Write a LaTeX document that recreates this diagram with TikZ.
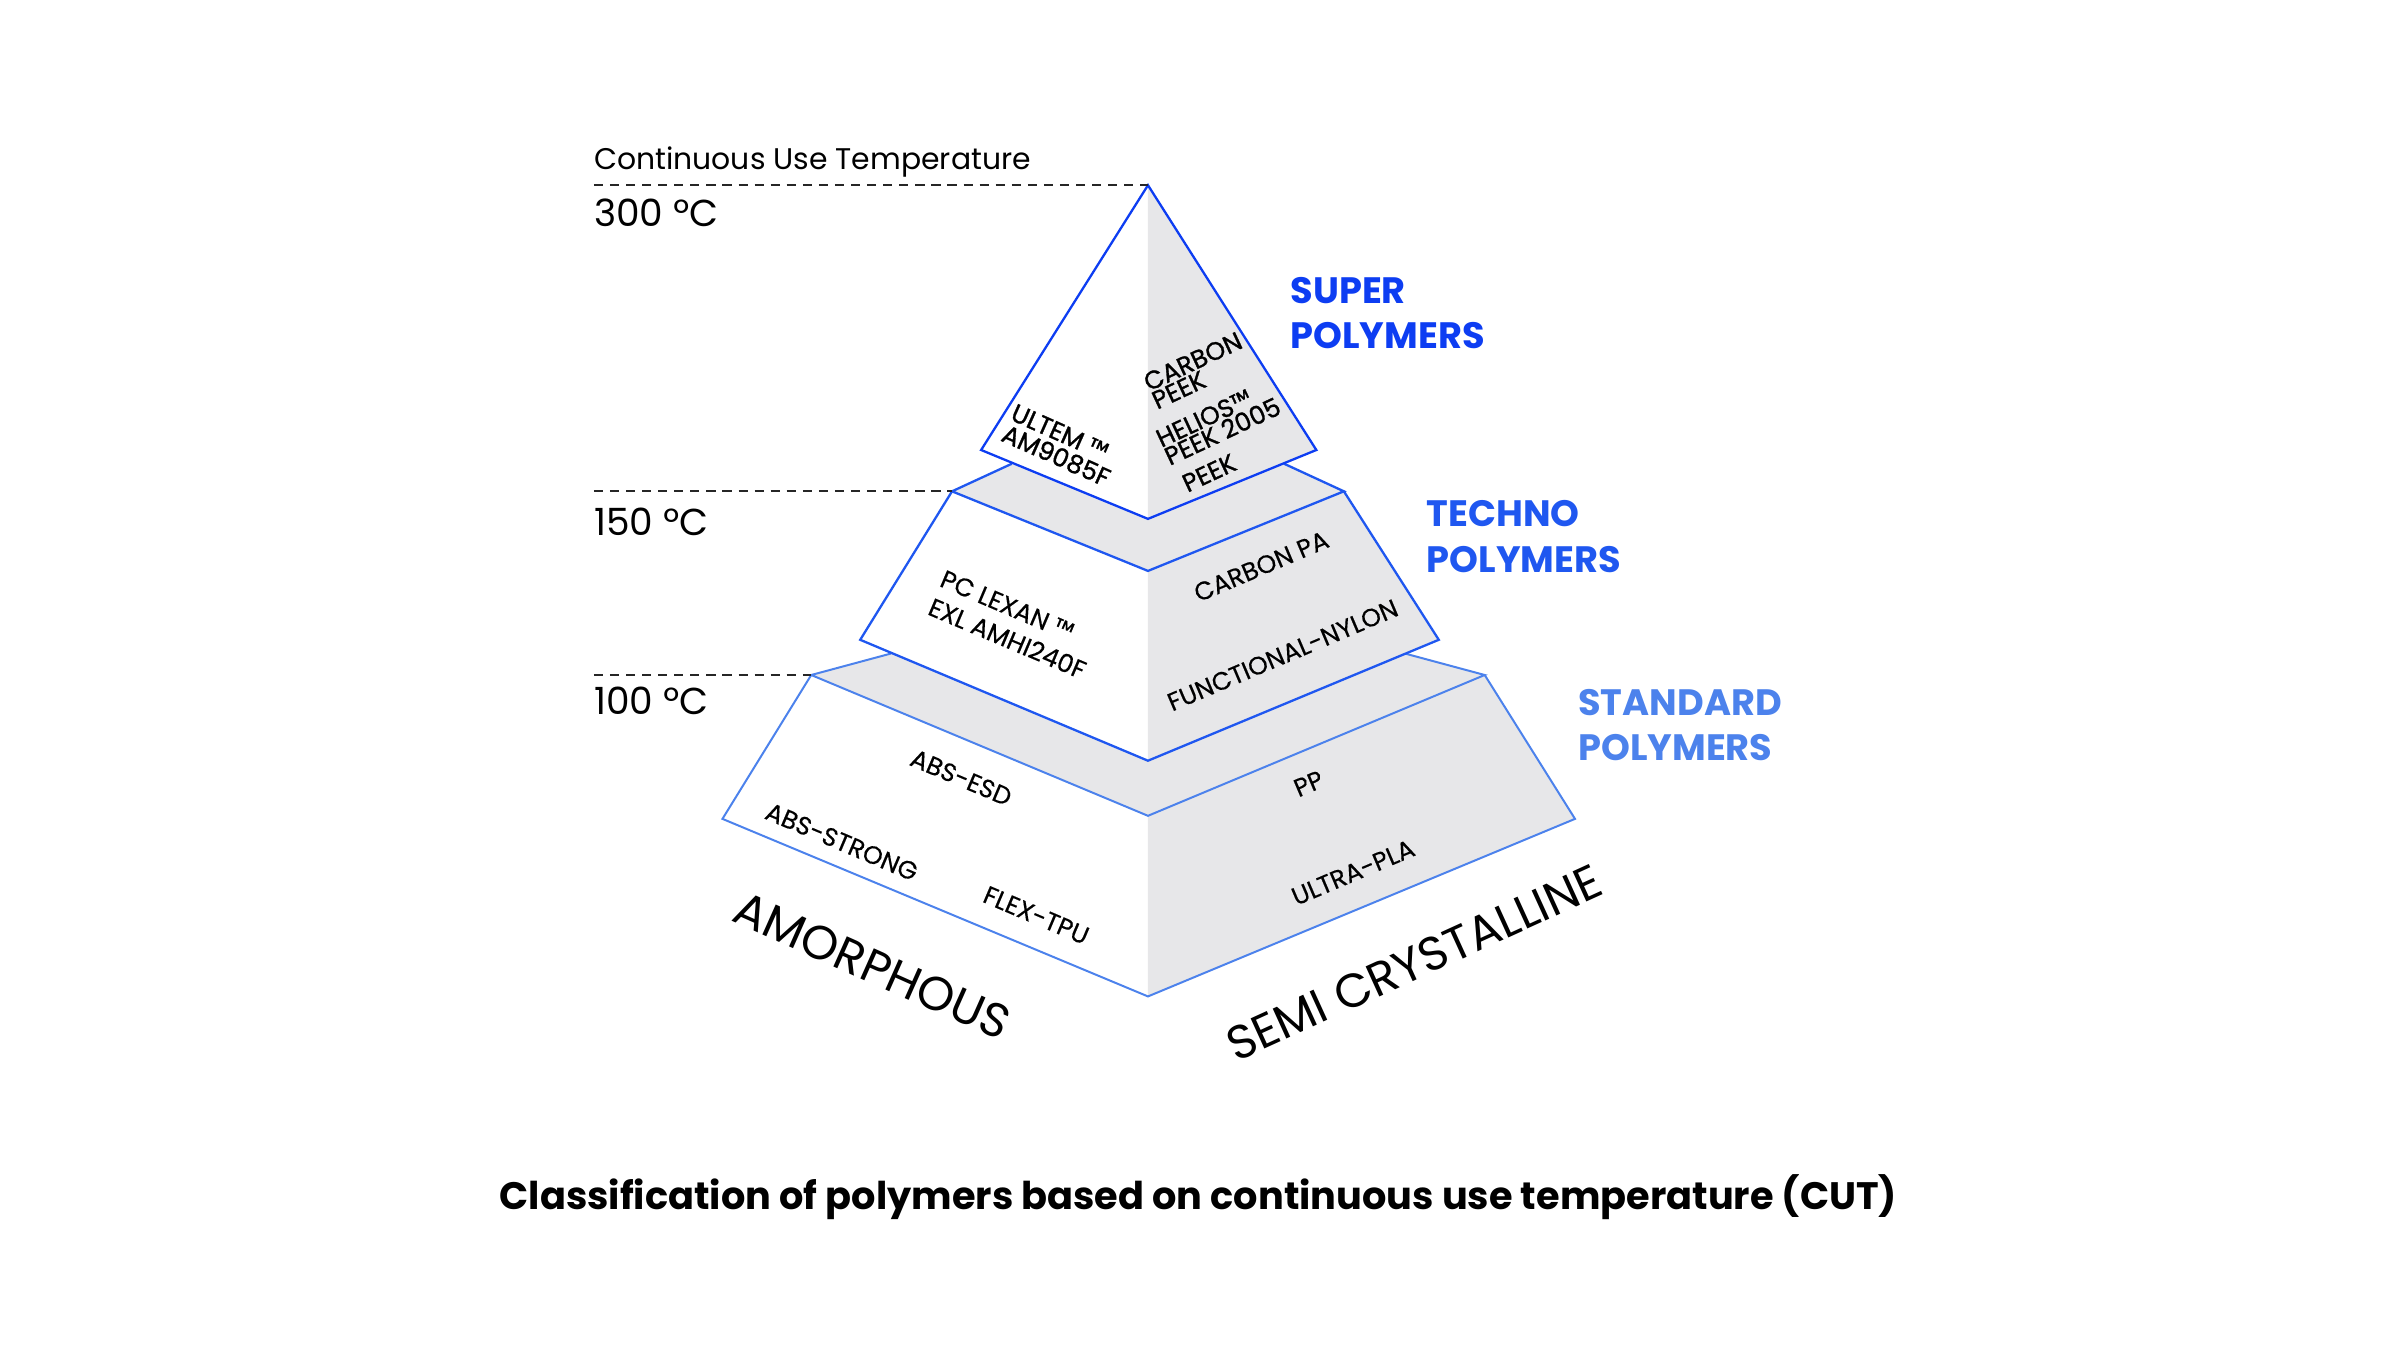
\documentclass[tikz,border=0pt]{standalone}
\usepackage{fontspec}
\setmainfont{Poppins}
\newfontfamily\medfont{Poppins}[FakeBold=0.35]
\newfontfamily\semifont{Poppins}[FakeBold=1.1]
\definecolor{cA}{HTML}{0D3DF2}
\definecolor{cB}{HTML}{1F57F0}
\definecolor{cC}{HTML}{4C82EC}
\definecolor{gface}{HTML}{E7E7E9}
\begin{document}
\begin{tikzpicture}[x=1pt,y=-1pt,
  edgeA/.style={draw=cA,line width=1.5pt,line join=miter},
  edgeB/.style={draw=cB,line width=1.5pt,line join=miter},
  edgeC/.style={draw=cC,line width=1.3pt,line join=miter},
  lvl/.style={draw=black!85,line width=1.4pt,dash pattern=on 6pt off 4.5pt},
  lab/.style={font=\medfont\fontsize{16.5}{20}\selectfont,align=left,inner sep=0pt},
  toplab/.style={font=\semifont\fontsize{16.5}{13}\selectfont,align=left,inner sep=0pt},
  big/.style={font=\fontsize{31}{31}\selectfont,inner sep=0pt},
  cls/.style={font=\fontsize{24}{29.5}\selectfont\bfseries,align=left,anchor=north west,inner sep=0pt}]
\useasboundingbox (0,0) rectangle (1568,882);
% ---------- bottom tier ----------
\coordinate (bTL) at (530,441); \coordinate (bTF) at (750,533); \coordinate (bTR) at (970,441);
\coordinate (bBL) at (472,535); \coordinate (bBF) at (750,651); \coordinate (bBR) at (1029,535);
\coordinate (bKL) at (582,427); \coordinate (bKR) at (918,427);
% ---------- middle tier ----------
\coordinate (mTL) at (622,321); \coordinate (mTF) at (750,373); \coordinate (mTR) at (878,321);
\coordinate (mBL) at (562,418); \coordinate (mBF) at (750,497); \coordinate (mBR) at (940,418);
\coordinate (mKL) at (661,303); \coordinate (mKR) at (839,303);
% ---------- top pyramid ----------
\coordinate (apex) at (750,121); \coordinate (tL) at (641,294); \coordinate (tF) at (750,339); \coordinate (tR) at (860,294);
% faces bottom
\fill[gface] (bTL) -- (bKL) -- (mBF) -- (bKR) -- (bTR) -- (bTF) -- cycle;
\fill[gface] (bTF) -- (bTR) -- (bBR) -- (bBF) -- cycle;
\draw[edgeC] (bKL) -- (bTL) -- (bTF) -- (bTR) -- (bKR);
\draw[edgeC] (bTL) -- (bBL) -- (bBF) -- (bBR) -- (bTR);
% faces middle
\fill[gface] (mTL) -- (mKL) -- (tF) -- (mKR) -- (mTR) -- (mTF) -- cycle;
\fill[gface] (mTF) -- (mTR) -- (mBR) -- (mBF) -- cycle;
\draw[edgeB] (mKL) -- (mTL) -- (mTF) -- (mTR) -- (mKR);
\draw[edgeB] (mTL) -- (mBL) -- (mBF) -- (mBR) -- (mTR);
% top pyramid
\fill[gface] (apex) -- (tF) -- (tR) -- cycle;
\draw[edgeA] (apex) -- (tL) -- (tF) -- (tR) -- cycle;
% level lines
\coordinate (d300) at (388,121); \coordinate (d150) at (388,321); \coordinate (d100) at (388,441);
\draw[lvl] (d300) -- (apex);
\draw[lvl] (d150) -- (mTL);
\draw[lvl] (d100) -- (bTL);
\node[anchor=base west,inner sep=0pt,font=\fontsize{19.5}{19.5}\selectfont] (cut) at (388,111) {Continuous Use Temperature};
\node[anchor=base west,inner sep=0pt,font=\fontsize{24.5}{24.5}\selectfont] (t300) at (388,148) {300 ºC};
\node[anchor=base west,inner sep=0pt,font=\fontsize{24.5}{24.5}\selectfont] (t150) at (388,350) {150 ºC};
\node[anchor=base west,inner sep=0pt,font=\fontsize{24.5}{24.5}\selectfont] (t100) at (388,467) {100 ºC};
% class labels
\node[cls,text=cA] (super) at (843,181) {SUPER\\POLYMERS};
\node[cls,text=cB] (techno) at (932,327) {TECHNO\\POLYMERS};
\node[cls,text=cC] (standard) at (1031,450) {STANDARD\\POLYMERS};
% material labels
\node[toplab,rotate=-24,font=\semifont\fontsize{16.5}{15}\selectfont] (ultem) at (693,291) {ULTEM ™\\AM9085F};
\node[toplab,rotate=25] (cpeek) at (782,242) {CARBON\\PEEK};
\node[toplab,rotate=25] (helios) at (796,276) {HELIOS™\\PEEK 2005};
\node[toplab,rotate=25] (peek) at (790,309) {PEEK};
\node[lab,rotate=-23] (lexan) at (662,408) {PC LEXAN ™\\EXL AMHI240F};
\node[lab,rotate=23] (cpa) at (824,370) {CARBON PA};
\node[lab,rotate=23] (nylon) at (838,428) {FUNCTIONAL-NYLON};
\node[lab,rotate=-23] (absesd) at (628,508) {ABS-ESD};
\node[lab,rotate=-23] (absstr) at (550,550) {ABS-STRONG};
\node[lab,rotate=-23] (tpu) at (677,598) {FLEX-TPU};
\node[lab,rotate=23] (pp) at (855,512) {PP};
\node[lab,rotate=23] (pla) at (884,570) {ULTRA-PLA};
\node[big,rotate=-24] (amor) at (570,631) {AMORPHOUS};
\node[big,rotate=24.5] (semi) at (924,629) {SEMI CRYSTALLINE};
% caption
\node[inner sep=0pt,font=\fontsize{25}{25}\selectfont\bfseries] (caption) at (783,782) {Classification of polymers based on continuous use temperature (CUT)};
\end{tikzpicture}
\end{document}
